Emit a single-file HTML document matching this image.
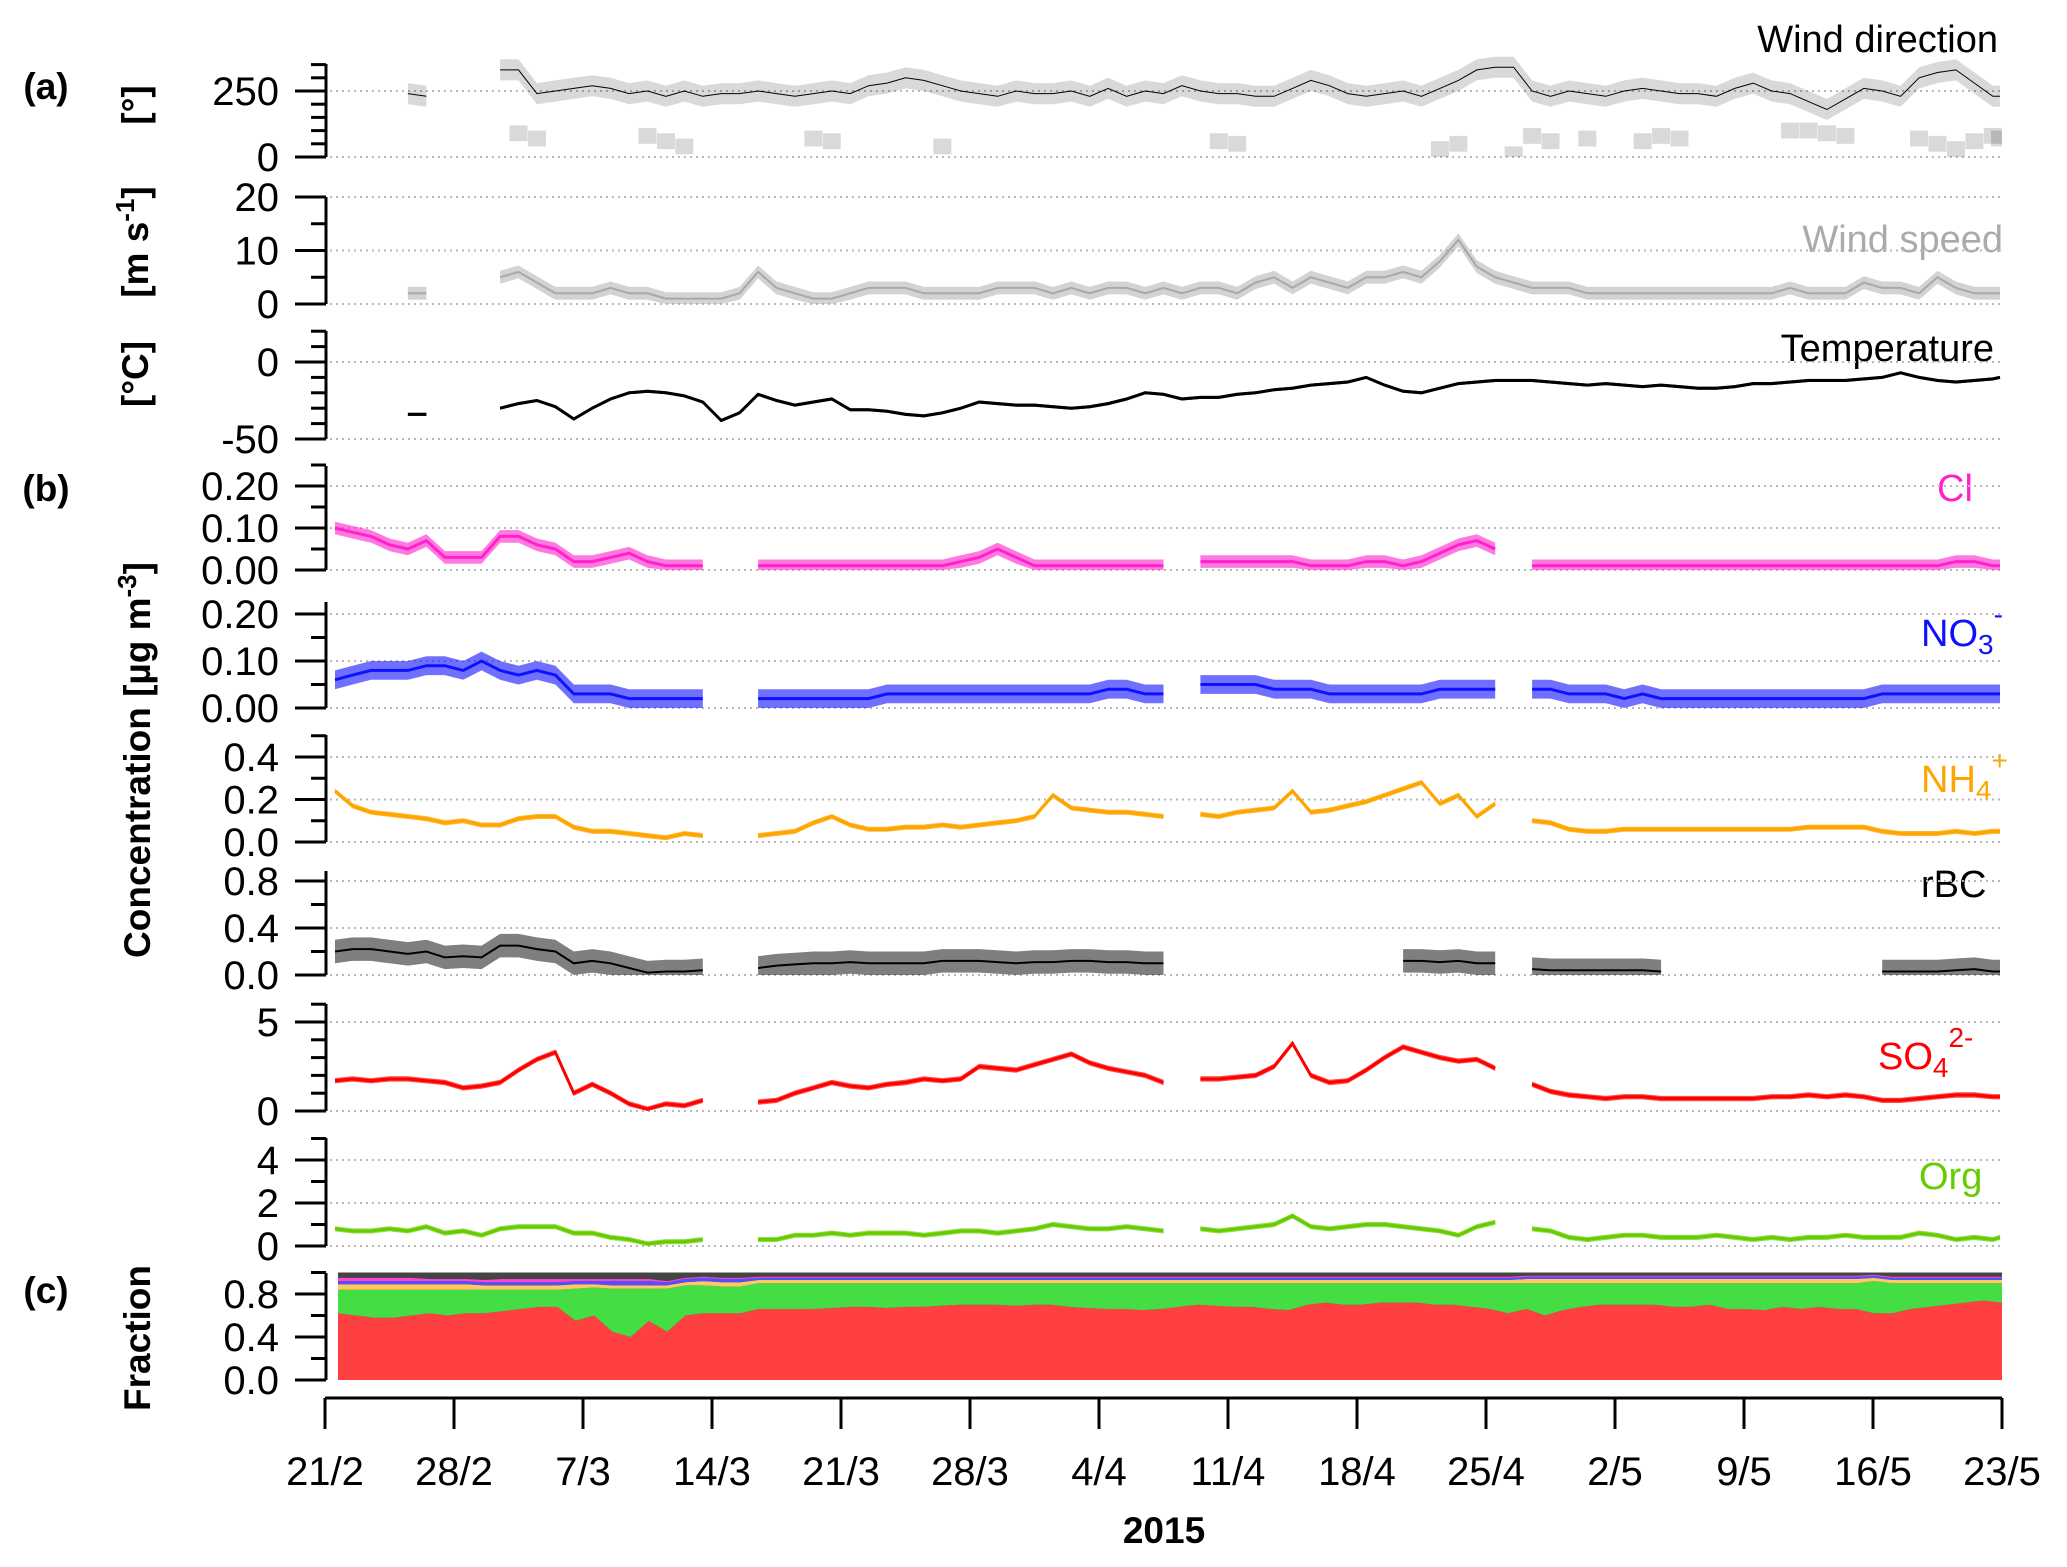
<!DOCTYPE html>
<html><head><meta charset="utf-8"><style>
html,body{margin:0;padding:0;background:#fff;}
svg{display:block;}
.tk{font-family:"Liberation Sans",sans-serif;font-size:40px;fill:#000;}
.ttl{font-family:"Liberation Sans",sans-serif;font-weight:bold;font-size:37px;fill:#000;}
.lab{font-family:"Liberation Sans",sans-serif;font-size:38px;}
</style></head><body>
<svg id="chart" width="2067" height="1567" viewBox="0 0 2067 1567" xmlns="http://www.w3.org/2000/svg">
<text class="ttl" x="46" y="99" text-anchor="middle">(a)</text>
<text class="ttl" x="46" y="501" text-anchor="middle">(b)</text>
<text class="ttl" x="46" y="1303" text-anchor="middle">(c)</text>
<text class="ttl" transform="translate(148,105) rotate(-90)" text-anchor="middle">[°]</text>
<text class="ttl" transform="translate(148,242) rotate(-90)" text-anchor="middle">[m s<tspan dy="-14" font-size="26">-1</tspan><tspan dy="14">]</tspan></text>
<text class="ttl" transform="translate(148,374) rotate(-90)" text-anchor="middle">[°C]</text>
<text class="ttl" transform="translate(150,760) rotate(-90)" text-anchor="middle">Concentration [µg m<tspan dy="-14" font-size="26">-3</tspan><tspan dy="14">]</tspan></text>
<text class="ttl" transform="translate(150,1338) rotate(-90)" text-anchor="middle">Fraction</text>
<text class="lab" x="1998" y="52" text-anchor="end" fill="#000">Wind direction</text>
<text class="lab" x="2003" y="252" text-anchor="end" fill="#aaa">Wind speed</text>
<text class="lab" x="1994" y="361" text-anchor="end" fill="#000">Temperature</text>
<text class="lab" x="1955" y="501" text-anchor="middle" fill="#ff22cc">Cl</text>
<text class="lab" x="1921" y="646" fill="#1010ff">NO<tspan font-size="28" dy="8">3</tspan><tspan font-size="28" dy="-30">-</tspan></text>
<text class="lab" x="1921" y="792" fill="#ffa500">NH<tspan font-size="28" dy="8">4</tspan><tspan font-size="28" dy="-30">+</tspan></text>
<text class="lab" x="1921" y="897" fill="#000">rBC</text>
<text class="lab" x="1878" y="1069" fill="#ff0000">SO<tspan font-size="28" dy="8">4</tspan><tspan font-size="28" dy="-30">2-</tspan></text>
<text class="lab" x="1919" y="1189" fill="#66cc00">Org</text>
<text class="ttl" x="1164" y="1543" text-anchor="middle">2015</text>
</svg>
<script>
const _ = null;
const dateLabels = ["21/2","28/2","7/3","14/3","21/3","28/3","4/4","11/4","18/4","25/4","2/5","9/5","16/5","23/5"];
const windMain = [_,_,_,_,240,230,_,_,_,330,330,240,250,260,270,260,240,250,230,250,230,240,240,250,240,230,240,250,240,270,280,300,290,270,250,240,230,250,240,240,250,230,260,230,250,240,270,250,240,240,230,230,260,290,270,240,230,240,250,230,260,290,330,340,340,250,230,250,240,230,250,260,250,240,240,230,260,280,250,240,210,180,220,260,250,230,300,320,330,280,230,230];
const windLow = [_,_,_,_,_,_,_,_,_,_,90,70,_,_,_,_,_,80,60,40,_,_,_,_,_,_,70,60,_,_,_,_,_,40,_,_,_,_,_,_,_,_,_,_,_,_,_,_,60,50,_,_,_,_,_,_,_,_,_,_,30,50,_,_,10,80,60,_,70,_,_,60,80,70,_,_,_,_,_,100,100,90,80,_,_,_,70,50,30,60,80,70];
const windSpeed = [_,_,_,_,2,2,_,_,_,5,6,4,2,2,2,3,2,2,1,1,1,1,2,6,3,2,1,1,2,3,3,3,2,2,2,2,3,3,3,2,3,2,3,3,2,3,2,3,3,2,4,5,3,5,4,3,5,5,6,5,8,12,7,5,4,3,3,3,2,2,2,2,2,2,2,2,2,2,2,3,2,2,2,4,3,3,2,5,3,2,2,2];
const temperature = [_,_,_,_,-34,-34,_,_,_,-30,-27,-25,-29,-37,-30,-24,-20,-19,-20,-22,-26,-38,-33,-21,-25,-28,-26,-24,-31,-31,-32,-34,-35,-33,-30,-26,-27,-28,-28,-29,-30,-29,-27,-24,-20,-21,-24,-23,-23,-21,-20,-18,-17,-15,-14,-13,-10,-15,-19,-20,-17,-14,-13,-12,-12,-12,-13,-14,-15,-14,-15,-16,-15,-16,-17,-17,-16,-14,-14,-13,-12,-12,-12,-11,-10,-7,-10,-12,-13,-12,-11,-10];
const cl = [.10,.09,.08,.06,.05,.07,.03,.03,.03,.08,.08,.06,.05,.02,.02,.03,.04,.02,.01,.01,.01,_,_,.01,.01,.01,.01,.01,.01,.01,.01,.01,.01,.01,.02,.03,.05,.03,.01,.01,.01,.01,.01,.01,.01,.01,_,.02,.02,.02,.02,.02,.02,.01,.01,.01,.02,.02,.01,.02,.04,.06,.07,.05,_,.01,.01,.01,.01,.01,.01,.01,.01,.01,.01,.01,.01,.01,.01,.01,.01,.01,.01,.01,.01,.01,.01,.01,.02,.02,.01,.01];
const no3 = [.06,.07,.08,.08,.08,.09,.09,.08,.10,.08,.07,.08,.07,.03,.03,.03,.02,.02,.02,.02,.02,_,_,.02,.02,.02,.02,.02,.02,.02,.03,.03,.03,.03,.03,.03,.03,.03,.03,.03,.03,.03,.04,.04,.03,.03,_,.05,.05,.05,.05,.04,.04,.04,.03,.03,.03,.03,.03,.03,.04,.04,.04,.04,_,.04,.04,.03,.03,.03,.02,.03,.02,.02,.02,.02,.02,.02,.02,.02,.02,.02,.02,.02,.03,.03,.03,.03,.03,.03,.03,.03];
const nh4 = [.24,.17,.14,.13,.12,.11,.09,.10,.08,.08,.11,.12,.12,.07,.05,.05,.04,.03,.02,.04,.03,_,_,.03,.04,.05,.09,.12,.08,.06,.06,.07,.07,.08,.07,.08,.09,.10,.12,.22,.16,.15,.14,.14,.13,.12,_,.13,.12,.14,.15,.16,.24,.14,.15,.17,.19,.22,.25,.28,.18,.22,.12,.18,_,.10,.09,.06,.05,.05,.06,.06,.06,.06,.06,.06,.06,.06,.06,.06,.07,.07,.07,.07,.05,.04,.04,.04,.05,.04,.05,.05];
const rbc = [.20,.22,.22,.20,.18,.20,.15,.16,.15,.25,.25,.22,.20,.10,.12,.10,.06,.02,.03,.03,.04,_,_,.06,.08,.09,.10,.10,.11,.10,.10,.10,.10,.12,.12,.12,.11,.10,.11,.11,.12,.12,.11,.11,.10,.10,_,_,_,_,_,_,_,_,_,_,_,_,.12,.12,.11,.12,.10,.10,_,.05,.04,.04,.04,.04,.04,.04,.03,_,_,_,_,_,_,_,_,_,_,_,.03,.03,.03,.03,.04,.05,.03,.03];
const so4 = [1.7,1.8,1.7,1.8,1.8,1.7,1.6,1.3,1.4,1.6,2.3,2.9,3.3,1.0,1.5,1.0,0.4,0.1,0.4,0.3,0.6,_,_,0.5,0.6,1.0,1.3,1.6,1.4,1.3,1.5,1.6,1.8,1.7,1.8,2.5,2.4,2.3,2.6,2.9,3.2,2.7,2.4,2.2,2.0,1.6,_,1.8,1.8,1.9,2.0,2.5,3.8,2.0,1.6,1.7,2.3,3.0,3.6,3.3,3.0,2.8,2.9,2.4,_,1.5,1.1,0.9,0.8,0.7,0.8,0.8,0.7,0.7,0.7,0.7,0.7,0.7,0.8,0.8,0.9,0.8,0.9,0.8,0.6,0.6,0.7,0.8,0.9,0.9,0.8,0.8];
const org = [0.8,0.7,0.7,0.8,0.7,0.9,0.6,0.7,0.5,0.8,0.9,0.9,0.9,0.6,0.6,0.4,0.3,0.1,0.2,0.2,0.3,_,_,0.3,0.3,0.5,0.5,0.6,0.5,0.6,0.6,0.6,0.5,0.6,0.7,0.7,0.6,0.7,0.8,1.0,0.9,0.8,0.8,0.9,0.8,0.7,_,0.8,0.7,0.8,0.9,1.0,1.4,0.9,0.8,0.9,1.0,1.0,0.9,0.8,0.7,0.5,0.9,1.1,_,0.8,0.7,0.4,0.3,0.4,0.5,0.5,0.4,0.4,0.4,0.5,0.4,0.3,0.4,0.3,0.4,0.4,0.5,0.4,0.4,0.4,0.6,0.5,0.3,0.4,0.3,0.4];
const so4Frac = [.62,.60,.58,.58,.60,.62,.60,.62,.62,.64,.66,.68,.68,.55,.60,.45,.40,.55,.45,.60,.62,.62,.62,.66,.66,.66,.66,.67,.68,.68,.67,.68,.68,.69,.70,.70,.70,.69,.70,.70,.68,.67,.66,.66,.65,.66,.68,.70,.69,.68,.68,.66,.65,.70,.72,.70,.70,.72,.72,.72,.70,.70,.68,.66,.62,.66,.60,.65,.68,.70,.70,.70,.70,.68,.68,.70,.66,.66,.65,.68,.66,.68,.66,.66,.62,.62,.66,.68,.70,.72,.74,.72];
const orgFrac = [.22,.24,.26,.26,.24,.22,.24,.22,.22,.20,.18,.16,.16,.30,.26,.40,.45,.30,.40,.28,.26,.25,.25,.24,.24,.24,.24,.23,.22,.22,.23,.22,.22,.21,.20,.20,.20,.21,.20,.20,.22,.23,.24,.24,.25,.24,.22,.20,.21,.22,.22,.24,.25,.20,.18,.20,.20,.18,.18,.18,.20,.20,.22,.24,.28,.24,.30,.25,.22,.20,.20,.20,.20,.22,.22,.20,.24,.24,.25,.22,.24,.22,.24,.24,.30,.28,.24,.22,.20,.18,.16,.18];
const nh4Frac = [.05,.05,.05,.05,.05,.05,.05,.05,.04,.04,.04,.04,.04,.04,.03,.03,.03,.03,.03,.03,.04,.04,.04,.03,.03,.03,.03,.03,.03,.03,.03,.03,.03,.03,.03,.03,.03,.03,.03,.03,.03,.03,.03,.03,.03,.03,.03,.03,.03,.03,.03,.03,.03,.03,.03,.03,.03,.03,.03,.03,.03,.03,.03,.03,.03,.04,.04,.04,.04,.04,.04,.04,.04,.04,.04,.04,.04,.04,.04,.04,.04,.04,.04,.04,.03,.03,.03,.03,.03,.03,.03,.03];
const no3Frac = [.03,.03,.03,.03,.03,.03,.03,.03,.03,.03,.03,.03,.03,.03,.03,.04,.04,.04,.03,.03,.03,.03,.03,.02,.02,.02,.02,.02,.02,.02,.02,.02,.02,.02,.02,.02,.02,.02,.02,.02,.02,.02,.02,.02,.02,.02,.02,.02,.02,.02,.02,.02,.02,.02,.02,.02,.02,.02,.02,.02,.02,.02,.02,.02,.02,.02,.02,.02,.02,.02,.02,.02,.02,.02,.02,.02,.02,.02,.02,.02,.02,.02,.02,.02,.02,.02,.02,.02,.02,.02,.02,.02];
const clFrac = [.03,.03,.03,.03,.03,.02,.02,.02,.02,.03,.03,.03,.03,.02,.02,.02,.02,.02,.01,.01,.01,.01,.01,.01,.01,.01,.01,.01,.01,.01,.01,.01,.01,.01,.01,.01,.01,.01,.01,.01,.01,.01,.01,.01,.01,.01,.01,.01,.01,.01,.01,.01,.01,.01,.01,.01,.01,.01,.01,.01,.01,.01,.01,.01,.01,.01,.01,.01,.01,.01,.01,.01,.01,.01,.01,.01,.01,.01,.01,.01,.01,.01,.01,.01,.01,.01,.01,.01,.01,.01,.01,.01];

const NS = "http://www.w3.org/2000/svg";
const svg = document.getElementById("chart");
const X0 = 325, X1 = 2002, NDAYS = 91;
function xd(d){ return X0 + d*(X1-X0)/NDAYS; }
function xs(i){ return Math.min(X1-2, Math.max(X0+10, xd(i+0.5))); }
function mk(tag, attrs, parent){
  const e = document.createElementNS(NS, tag);
  for (const k in attrs) e.setAttribute(k, attrs[k]);
  (parent||svg).appendChild(e);
  return e;
}
function panel(cfg){
  const ys = v => cfg.p0 + (v-cfg.v0)*(cfg.p1-cfg.p0)/(cfg.v1-cfg.v0);
  const g = mk("g", {});
  
  
  cfg.grid.forEach(v => {
    const l = mk("line", {x1:330, x2:X1, y1:ys(v), y2:ys(v), stroke:"#b8b8b8", "stroke-width":2, "stroke-dasharray":"2,4"}, g);
    
    
  });
  mk("line", {x1:326, x2:326, y1:cfg.top, y2:ys(cfg.min), stroke:"#000", "stroke-width":3}, g);
  cfg.minor.forEach(v => { mk("line", {x1:311, x2:326, y1:ys(v), y2:ys(v), stroke:"#000", "stroke-width":3}, g); });
  cfg.major.forEach(v => { mk("line", {x1:295, x2:326, y1:ys(v), y2:ys(v), stroke:"#000", "stroke-width":3}, g); });
  cfg.labels.forEach((v,i) => {
    const t = mk("text", {x:279, y:ys(v)+14, "text-anchor":"end", class:"tk"}, g);
    t.textContent = cfg.labelText[i];
    
    
  });
  return ys;
}
function range(a,b,s){ const r=[]; for(let v=a; v<=b+1e-9; v+=s) r.push(+v.toFixed(4)); return r; }
function segments(arr){
  const segs=[]; let cur=[];
  arr.forEach((v,i)=>{ if(v===null){ if(cur.length) segs.push(cur); cur=[]; } else cur.push(i); });
  if(cur.length) segs.push(cur);
  return segs;
}
function band(arr, ys, spread, color, op, name, lw, lo){
  segments(arr).forEach(seg => {
    let xa = seg.map(i=>xs(i));
    if (seg.length===1){ xa=[xs(seg[0])-4, xs(seg[0])+4]; }
    const vals = seg.length===1 ? [arr[seg[0]],arr[seg[0]]] : seg.map(i=>arr[i]);
    const top = xa.map((x,k)=>x.toFixed(1)+","+ys(vals[k]+spread).toFixed(1));
    const bot = xa.map((x,k)=>x.toFixed(1)+","+ys(Math.max(lo, vals[k]-spread)).toFixed(1)).reverse();
    const p = mk("polygon", {points: top.concat(bot).join(" "), fill:color, "fill-opacity":op});
    
    
    const l = mk("polyline", {points: xa.map((x,k)=>x.toFixed(1)+","+ys(vals[k]).toFixed(1)).join(" "), fill:"none", stroke:color, "stroke-width":lw});
    
    
  });
}

// Panel (a)
const ysWd = panel({name:"wind-direction", p0:157, v0:0, p1:91, v1:250, top:64, min:0, grid:[0,250], major:[0,250], minor:range(0,350,50), labels:[0,250], labelText:["0","250"]});
band(windMain, ysWd, 40, "#000", 0.15, "wind-direction", 1, 0);
windLow.forEach((v,i)=>{ if(v===null) return;
  const r = mk("rect", {x:xs(i)-9, y:ysWd(v+30), width:Math.min(18, X1-(xs(i)-9)), height:ysWd(Math.max(0,v-30))-ysWd(v+30), fill:"#000", "fill-opacity":0.15});
  
  
});
const ysWs = panel({name:"wind-speed", p0:304, v0:0, p1:197, v1:20, top:197, min:0, grid:[0,10,20], major:[0,10,20], minor:[5,15], labels:[0,10,20], labelText:["0","10","20"]});
band(windSpeed, ysWs, 1.2, "#a8a8a8", 0.5, "wind-speed", 2, 0);
const ysT = panel({name:"temperature", p0:362, v0:0, p1:439, v1:-50, top:331, min:-50, grid:[0,-50], major:[0,-50], minor:range(-50,20,10), labels:[0,-50], labelText:["0","-50"]});
band(temperature, ysT, 1, "#000", 0.8, "temperature", 3, -50);

// Panel (b)
const ysCl = panel({name:"cl", p0:570, v0:0, p1:486, v1:0.2, top:466, min:0, grid:[0,.1,.2], major:[0,.1,.2], minor:range(0,.25,.05), labels:[0,.1,.2], labelText:["0.00","0.10","0.20"]});
band(cl, ysCl, 0.015, "#ff22cc", 0.6, "cl", 3, 0);
const ysNo3 = panel({name:"no3", p0:708, v0:0, p1:614, v1:0.2, top:602, min:0, grid:[0,.1,.2], major:[0,.1,.2], minor:range(0,.2,.05), labels:[0,.1,.2], labelText:["0.00","0.10","0.20"]});
band(no3, ysNo3, 0.02, "#1010ff", 0.6, "no3", 3, 0);
const ysNh4 = panel({name:"nh4", p0:842, v0:0, p1:757, v1:0.4, top:735, min:0, grid:[0,.2,.4], major:[0,.2,.4], minor:range(0,.5,.1), labels:[0,.2,.4], labelText:["0.0","0.2","0.4"]});
band(nh4, ysNh4, 0.012, "#ffa500", 0.8, "nh4", 3, 0);
const ysRbc = panel({name:"rbc", p0:975, v0:0, p1:881, v1:0.8, top:871, min:0, grid:[0,.4,.8], major:[0,.4,.8], minor:range(0,.8,.2), labels:[0,.4,.8], labelText:["0.0","0.4","0.8"]});
band(rbc, ysRbc, 0.1, "#000", 0.5, "rbc", 2, 0);
const ysSo4 = panel({name:"so4", p0:1111, v0:0, p1:1022, v1:5, top:1004, min:0, grid:[0,5], major:[0,5], minor:range(0,6,1), labels:[0,5], labelText:["0","5"]});
band(so4, ysSo4, 0.15, "#ff0000", 0.7, "so4", 3, 0);
const ysOrg = panel({name:"org", p0:1246, v0:0, p1:1160, v1:4, top:1138, min:0, grid:[0,2,4], major:[0,2,4], minor:range(0,5,1), labels:[0,2,4], labelText:["0","2","4"]});
band(org, ysOrg, 0.12, "#66cc00", 0.7, "org", 3, 0);

// Panel (c) stacked fraction
const ysF = panel({name:"fraction", p0:1380, v0:0, p1:1294, v1:0.8, top:1273, min:0, grid:[], major:[0,.4,.8], minor:range(0,1,.2), labels:[0,.4,.8], labelText:["0.0","0.4","0.8"]});
const layers = [[so4Frac,"#ff4040","so4"],[orgFrac,"#44dd44","org"],[nh4Frac,"#ffc860","nh4"],[no3Frac,"#5050ff","no3"],[clFrac,"#ff40d0","cl"]];
const n = so4Frac.length;
const fx = i => 338 + i*(X1-338)/(n-1);
let base = new Array(n).fill(0);
const bg = mk("rect", {x:338, y:ysF(1), width:X1-338, height:ysF(0)-ysF(1), fill:"#444"});


layers.forEach(([arr,color,name]) => {
  const topv = base.map((b,i)=>b+arr[i]);
  const pts = topv.map((v,i)=>fx(i).toFixed(1)+","+ysF(Math.min(1,v)).toFixed(1))
    .concat(base.map((v,i)=>fx(i).toFixed(1)+","+ysF(v).toFixed(1)).reverse());
  const p = mk("polygon", {points:pts.join(" "), fill:color});
  
  
  base = topv;
});

// x axis
mk("line", {x1:X0, x2:X1, y1:1398, y2:1398, stroke:"#000", "stroke-width":3});
dateLabels.forEach((lab,k) => {
  const x = xd(k*7);
  mk("line", {x1:x, x2:x, y1:1398, y2:1429, stroke:"#000", "stroke-width":3});
  const t = mk("text", {x:x, y:1485, "text-anchor":"middle", class:"tk"});
  t.textContent = lab;
  
  
});
</script>
</body></html>
